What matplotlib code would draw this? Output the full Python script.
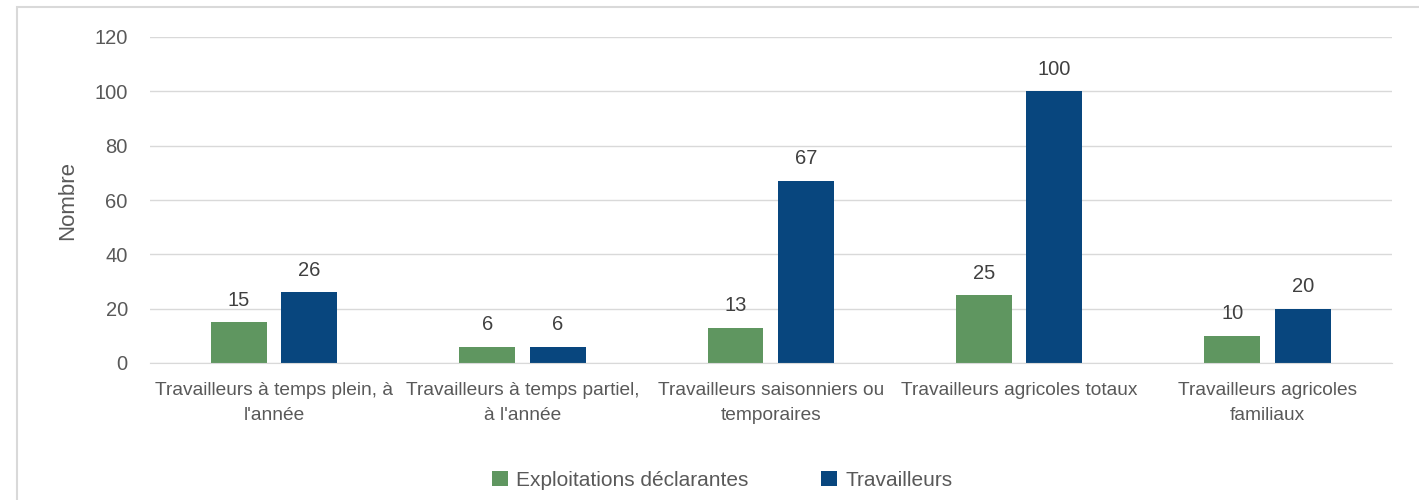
import matplotlib
matplotlib.use("Agg")
from matplotlib import pyplot as plt
from matplotlib.patches import Rectangle
import numpy as np

categories = ["Travailleurs à temps plein, à\nl'année",
              "Travailleurs à temps partiel,\nà l'année",
              "Travailleurs saisonniers ou\ntemporaires",
              "Travailleurs agricoles totaux",
              "Travailleurs agricoles\nfamiliaux"]
exploitations = [15, 6, 13, 25, 10]
travailleurs = [26, 6, 67, 100, 20]
series_names = ["Exploitations déclarantes", "Travailleurs"]

green = '#5F9660'
blue = '#08467E'
grey_txt = '#595959'

plt.rcParams['font.family'] = ['Liberation Sans', 'DejaVu Sans']

fig = plt.figure(figsize=(14.19, 5.0), dpi=100)
ax = fig.add_axes([0.1057, 0.274, 0.875, 0.652])

# outer chart frame (cut off on the right and bottom)
fig.patches.append(Rectangle((17/1419, -0.1), 1.2, 0.1 + (500-7)/500,
                             transform=fig.transFigure, fill=False,
                             edgecolor='#D9D9D9', linewidth=1.5))

x = np.arange(len(categories))
w = 0.225
off = 0.142
b1 = ax.bar(x - off, exploitations, w, color=green, label=series_names[0])
b2 = ax.bar(x + off, travailleurs, w, color=blue, label=series_names[1])

for bars in (b1, b2):
    for r in bars:
        ax.annotate('%d' % r.get_height(), (r.get_x() + r.get_width()/2, r.get_height()),
                    xytext=(0, 9), textcoords='offset points', ha='center', va='bottom',
                    fontsize=14.5, color='#404040')

ax.set_xlim(-0.5, len(categories) - 0.5)
ax.set_ylim(0, 120)
ax.set_yticks(range(0, 121, 20))
ax.yaxis.grid(True, color='#D9D9D9', linewidth=1)
ax.set_axisbelow(True)
for s in ['top', 'right', 'left']:
    ax.spines[s].set_visible(False)
ax.spines['bottom'].set_color('#D9D9D9')
ax.tick_params(length=0, labelcolor=grey_txt)
ax.tick_params(axis='y', pad=16, labelsize=14.5)
ax.tick_params(axis='x', pad=14, labelsize=13.8)
ax.set_xticks(x)
ax.set_xticklabels(categories, linespacing=1.6)
ax.set_ylabel('Nombre', fontsize=16, color=grey_txt, labelpad=12)

fig.legend(handles=[b1, b2], labels=series_names, loc='center', bbox_to_anchor=(0.509, 0.04),
           ncol=2, frameon=False, fontsize=15, handlelength=0.75, handleheight=0.75,
           columnspacing=3.5, handletextpad=0.4, labelcolor=grey_txt)

fig.savefig('out.png', dpi=100)
